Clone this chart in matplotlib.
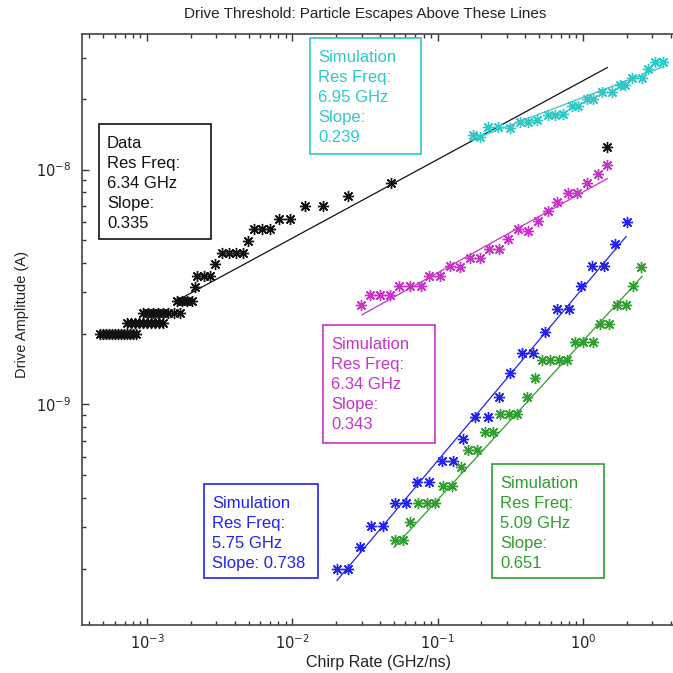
import matplotlib
matplotlib.use("Agg")
import matplotlib.pyplot as plt
from matplotlib.patches import Rectangle
from matplotlib.ticker import FixedLocator, LogLocator, NullFormatter

plt.rcParams['font.family'] = ['Liberation Sans', 'DejaVu Sans']

# measured data: chirp rate (GHz/ns) vs drive amplitude (A)
data_x = [4.75e-4, 4.98e-4, 5.23e-4, 5.48e-4, 5.75e-4, 6.03e-4, 6.33e-4, 6.64e-4, 6.96e-4,
          7.30e-4, 7.66e-4, 8.04e-4, 8.43e-4,
          7.28e-4, 7.75e-4, 8.26e-4, 8.81e-4, 9.39e-4, 1.00e-3, 1.066e-3, 1.136e-3, 1.21e-3, 1.29e-3,
          9.39e-4, 1.016e-3, 1.10e-3, 1.19e-3, 1.29e-3, 1.395e-3, 1.53e-3, 1.69e-3,
          1.61e-3, 1.74e-3, 1.88e-3, 2.04e-3,
          2.14e-3,
          2.21e-3, 2.47e-3, 2.71e-3,
          2.94e-3,
          3.28e-3, 3.67e-3, 4.10e-3, 4.58e-3,
          4.96e-3,
          5.45e-3, 6.19e-3, 7.02e-3,
          8.10e-3, 9.64e-3,
          1.22e-2, 1.63e-2,
          2.42e-2,
          4.78e-2,
          1.47]
data_y = [2.0e-9, 2.0e-9, 2.0e-9, 2.0e-9, 2.0e-9, 2.0e-9, 2.0e-9, 2.0e-9, 2.0e-9,
          2.0e-9, 2.0e-9, 2.0e-9, 2.0e-9,
          2.23e-9, 2.23e-9, 2.23e-9, 2.23e-9, 2.23e-9, 2.23e-9, 2.23e-9, 2.23e-9, 2.23e-9, 2.23e-9,
          2.46e-9, 2.46e-9, 2.46e-9, 2.46e-9, 2.46e-9, 2.46e-9, 2.46e-9, 2.46e-9,
          2.77e-9, 2.77e-9, 2.77e-9, 2.77e-9,
          3.15e-9,
          3.51e-9, 3.51e-9, 3.51e-9,
          3.98e-9,
          4.43e-9, 4.43e-9, 4.43e-9, 4.43e-9,
          4.99e-9,
          5.56e-9, 5.56e-9, 5.56e-9,
          6.19e-9, 6.19e-9,
          6.97e-9, 6.97e-9,
          7.75e-9,
          8.80e-9,
          1.25e-8]
data_fit_x = [1.56e-3, 1.47]
data_fit_y = [2.74e-9, 2.72e-8]

# simulation, 6.95 GHz
cyan_x = [0.175, 0.196, 0.222, 0.260, 0.315, 0.369, 0.419, 0.483, 0.575, 0.643, 0.730, 0.841,
          0.925, 1.067, 1.174, 1.353, 1.585, 1.80, 1.95, 2.18, 2.55, 2.81, 3.13, 3.56]
cyan_y = [1.41e-8, 1.38e-8, 1.52e-8, 1.52e-8, 1.51e-8, 1.60e-8, 1.60e-8, 1.62e-8, 1.71e-8, 1.71e-8,
          1.73e-8, 1.87e-8, 1.87e-8, 1.99e-8, 1.99e-8, 2.13e-8, 2.13e-8, 2.30e-8, 2.30e-8, 2.46e-8,
          2.46e-8, 2.67e-8, 2.88e-8, 2.88e-8]
cyan_fit_x = [0.167, 3.56]
cyan_fit_y = [1.33e-8, 2.74e-8]

# simulation, 6.34 GHz
mag_x = [0.0297, 0.0343, 0.0401, 0.0470, 0.0543, 0.0646, 0.0769, 0.0873, 0.1039, 0.1217, 0.1426,
         0.167, 0.196, 0.226, 0.2647, 0.305, 0.3575, 0.419, 0.491, 0.575, 0.664, 0.789, 0.910,
         1.067, 1.27, 1.47]
mag_y = [2.66e-9, 2.91e-9, 2.91e-9, 2.91e-9, 3.18e-9, 3.18e-9, 3.18e-9, 3.51e-9, 3.51e-9, 3.87e-9,
         3.83e-9, 4.22e-9, 4.22e-9, 4.57e-9, 4.57e-9, 5.04e-9, 5.56e-9, 5.50e-9, 6.07e-9, 6.69e-9,
         7.31e-9, 7.98e-9, 7.98e-9, 8.81e-9, 9.61e-9, 1.05e-8]
mag_fit_x = [0.0302, 1.47]
mag_fit_y = [2.41e-9, 9.16e-9]

# simulation, 5.75 GHz
blue_x = [0.0203, 0.0242, 0.0292, 0.0348, 0.0421, 0.0509, 0.0606, 0.0721, 0.0873, 0.1072, 0.1276,
          0.1495, 0.181, 0.222, 0.2647, 0.315, 0.381, 0.4535, 0.548, 0.664, 0.802, 0.970, 1.155,
          1.397, 1.663, 2.01]
blue_y = [2.00e-10, 2.00e-10, 2.46e-10, 3.03e-10, 3.03e-10, 3.80e-10, 3.80e-10, 4.66e-10, 4.66e-10,
          5.72e-10, 5.72e-10, 7.10e-10, 8.81e-10, 8.81e-10, 1.08e-9, 1.36e-9, 1.66e-9, 1.66e-9,
          2.04e-9, 2.54e-9, 2.54e-9, 3.18e-9, 3.90e-9, 3.90e-9, 4.84e-9, 6.01e-9]
blue_fit_x = [0.0203, 1.98]
blue_fit_y = [1.78e-10, 5.19e-9]

# simulation, 5.09 GHz
green_x = [0.0509, 0.0578, 0.0646, 0.0733, 0.0845, 0.0959, 0.1089, 0.1256, 0.1449, 0.1618, 0.1866,
           0.212, 0.2405, 0.269, 0.310, 0.352, 0.412, 0.468, 0.523, 0.594, 0.685, 0.777, 0.882,
           1.00, 1.174, 1.311, 1.512, 1.717, 1.98, 2.21, 2.51]
green_y = [2.64e-10, 2.64e-10, 3.15e-10, 3.80e-10, 3.80e-10, 3.80e-10, 4.48e-10, 4.48e-10, 5.40e-10,
           6.37e-10, 6.37e-10, 7.60e-10, 7.60e-10, 9.07e-10, 9.07e-10, 9.07e-10, 1.08e-9, 1.30e-9,
           1.54e-9, 1.54e-9, 1.54e-9, 1.54e-9, 1.84e-9, 1.84e-9, 1.84e-9, 2.21e-9, 2.21e-9, 2.64e-9,
           2.64e-9, 3.18e-9, 3.83e-9]
green_fit_x = [0.0501, 2.55]
green_fit_y = [2.46e-10, 3.51e-9]

x_major = [1e-3, 1e-2, 1e-1, 1e0]
y_major = [1e-9, 1e-8]

black = "#111111"
cyan = "#2ec8c8"
magenta = "#c832c8"
blue = "#2222f0"
green = "#2f9e2f"

W = 673
fig = plt.figure(figsize=(W / 100, W / 100), dpi=100)
fig.patch.set_facecolor("white")
ax = fig.add_axes([82 / W, 1 - 625 / W, (684.6 - 82) / W, (625 - 34) / W])

star = (8, 2, 0)
series = [
    (data_x, data_y, data_fit_x, data_fit_y, black),
    (cyan_x, cyan_y, cyan_fit_x, cyan_fit_y, cyan),
    (mag_x, mag_y, mag_fit_x, mag_fit_y, magenta),
    (blue_x, blue_y, blue_fit_x, blue_fit_y, blue),
    (green_x, green_y, green_fit_x, green_fit_y, green),
]
for xs, ys, fx, fy, c in series:
    ax.plot(xs, ys, linestyle="none", marker=star, markersize=8,
            markeredgewidth=1.0, color=c)
    ax.plot(fx, fy, color=c, linewidth=0.9)

ax.set_xscale("log")
ax.set_yscale("log")
ax.set_xlim(3.57e-4, 5.0)
ax.set_ylim(1.15e-10, 3.78e-8)

ax.xaxis.set_major_locator(FixedLocator(x_major))
ax.yaxis.set_major_locator(FixedLocator(y_major))
for axis in (ax.xaxis, ax.yaxis):
    axis.set_minor_locator(LogLocator(base=10, subs=range(2, 10)))
    axis.set_minor_formatter(NullFormatter())
ax.set_xticklabels([r"$10^{-3}$", r"$10^{-2}$", r"$10^{-1}$", r"$10^{0}$"])
ax.set_yticklabels([r"$10^{-9}$", r"$10^{-8}$"])
ax.tick_params(which="both", direction="in", top=True, right=True,
               colors="#333333", labelcolor="#222222", labelsize=10.5)
ax.tick_params(which="major", length=5, width=1.0, pad=6)
ax.tick_params(which="minor", length=3, width=1.0)
ax.tick_params(axis="y", which="major", pad=8)
for s in ax.spines.values():
    s.set_color("#444444")
    s.set_linewidth(1.2)

fig.text(365 / W, 1 - 14 / W, "Drive Threshold: Particle Escapes Above These Lines",
         ha="center", va="center", fontsize=11, color="#222222")
fig.text(378 / W, 1 - 662 / W, "Chirp Rate (GHz/ns)", ha="center", va="center",
         fontsize=11.5, color="#222222")
fig.text(22 / W, 1 - 315 / W, "Drive Amplitude (A)", ha="center", va="center",
         rotation=90, fontsize=10.5, color="#222222")

# annotation boxes: (left, top, right, bottom) in pixels, text, colour
boxes = [
    ((99, 124, 211, 239), "Data\nRes Freq:\n6.34 GHz\nSlope:\n0.335", black),
    ((310, 38, 421, 154), "Simulation\nRes Freq:\n6.95 GHz\nSlope:\n0.239", cyan),
    ((323, 325, 435, 443), "Simulation\nRes Freq:\n6.34 GHz\nSlope:\n0.343", magenta),
    ((204, 484, 318, 578), "Simulation\nRes Freq:\n5.75 GHz\nSlope: 0.738", blue),
    ((492, 464, 604, 578), "Simulation\nRes Freq:\n5.09 GHz\nSlope:\n0.651", green),
]
for (x0, y0, x1, y1), txt, c in boxes:
    fig.patches.append(Rectangle((x0 / W, 1 - y1 / W), (x1 - x0) / W, (y1 - y0) / W,
                                 transform=fig.transFigure, fill=True, facecolor="white",
                                 edgecolor=c, linewidth=1.2, zorder=5))
    fig.text((x0 + 8) / W, 1 - (y0 + 12) / W, txt, ha="left", va="top", fontsize=12,
             color=c, linespacing=1.42, zorder=6)

fig.savefig("out.png", dpi=100, facecolor="white")
